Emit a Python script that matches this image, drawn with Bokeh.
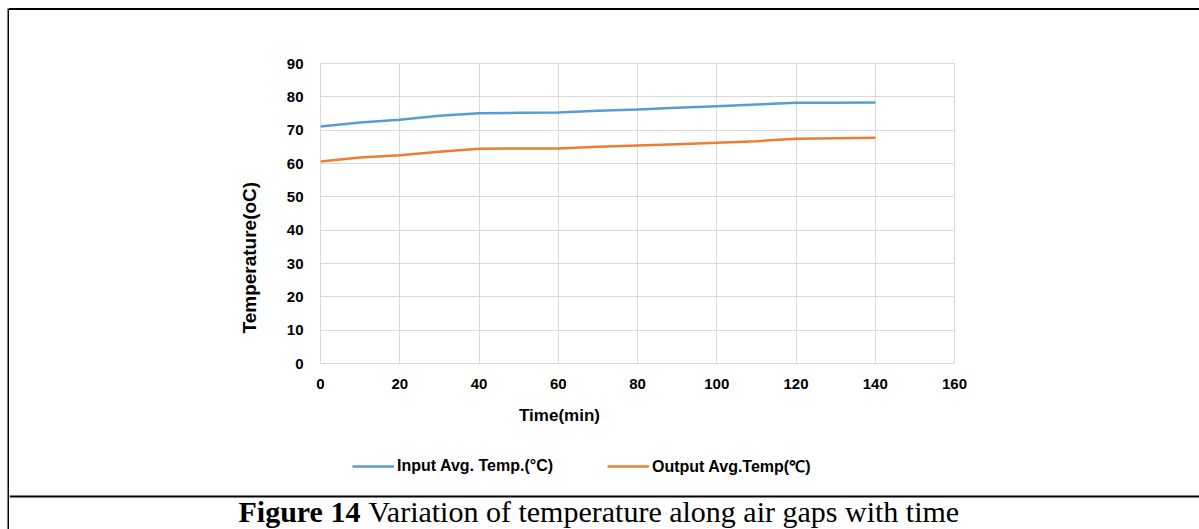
from bokeh.plotting import figure
from bokeh.layouts import column, row
from bokeh.models import (Label, Legend, LegendItem, Range1d, FixedTicker,
                          ColumnDataSource, Title, Spacer)
from bokeh.embed import file_html
from bokeh.resources import INLINE

# ---- data ----
time_min = [0, 10, 20, 30, 40, 50, 60, 70, 80, 90, 100, 110, 120, 130, 140]
input_avg = [71.1, 72.3, 73.1, 74.3, 75.1, 75.2, 75.3, 75.8, 76.2, 76.7, 77.2, 77.7, 78.2, 78.2, 78.3]
output_avg = [60.6, 61.8, 62.5, 63.5, 64.4, 64.5, 64.5, 65.0, 65.4, 65.8, 66.2, 66.7, 67.4, 67.6, 67.7]
x_ticks = [0, 20, 40, 60, 80, 100, 120, 140, 160]
y_ticks = [0, 10, 20, 30, 40, 50, 60, 70, 80, 90]
series_names = ["Input Avg. Temp.(°C)", "Output Avg.Temp(℃)"]
x_title = "Time(min)"
y_title = "Temperature(oC)"
caption_bold = "Figure 14"
caption_rest = "Variation of temperature along air gaps with time"

BLUE = "#5b9bd5"
ORANGE = "#ed7d31"
GRID = "#d9d9d9"
SANS = "Liberation Sans"
SERIF = "Liberation Serif"

TOTAL_W, TOTAL_H = 1199, 529
RULE_X = 7            # x of the left rule
RULE_T = 2            # rule thickness
TOP_Y = 8             # y of the top rule
LEFT_W = RULE_X + RULE_T
RIGHT_W = TOTAL_W - LEFT_W
MID_TOP = TOP_Y + RULE_T
MID_BOTTOM = 400      # page y where the chart figure ends


def blank(x0, w, h, fill="white"):
    f = figure(width=w, height=h, output_backend="svg", toolbar_location=None,
               x_range=Range1d(x0, x0 + w), y_range=Range1d(h, 0),
               x_axis_location=None, y_axis_location=None,
               min_border=0, min_border_left=0, min_border_right=0,
               min_border_top=0, min_border_bottom=0)
    f.xgrid.visible = False
    f.ygrid.visible = False
    f.outline_line_color = None
    f.background_fill_color = fill
    f.border_fill_color = fill
    return f


# ---- left rule (full height) ----
left = blank(0, LEFT_W, TOTAL_H)
left.quad(left=RULE_X, right=LEFT_W, top=TOP_Y, bottom=TOTAL_H,
          fill_color="black", line_color=None)

# ---- top rule ----
top = column(Spacer(width=RIGHT_W, height=TOP_Y),
             Spacer(width=RIGHT_W, height=RULE_T, styles={"background-color": "black"}))

# ---- main chart ----
MID_H = MID_BOTTOM - MID_TOP
FX0, FY0, FW, FH = 320, 63, 634, 300
ML = FX0 - LEFT_W
MT = FY0 - MID_TOP
p = figure(width=RIGHT_W, height=MID_H, output_backend="svg", toolbar_location=None,
           x_range=Range1d(0, 160), y_range=Range1d(0, 90),
           frame_width=FW, frame_height=FH,
           min_border_left=ML, min_border_top=MT,
           min_border_right=RIGHT_W - ML - FW, min_border_bottom=MID_H - MT - FH)
p.background_fill_color = "white"
p.border_fill_color = "white"
p.outline_line_color = GRID
p.outline_line_width = 1

for ax in (p.xaxis[0], p.yaxis[0]):
    ax.axis_line_color = None
    ax.major_tick_line_color = None
    ax.minor_tick_line_color = None
    ax.major_tick_in = 0
    ax.major_tick_out = 0
    ax.minor_tick_in = 0
    ax.minor_tick_out = 0
    ax.major_label_text_font = SANS
    ax.major_label_text_font_style = "bold"
    ax.major_label_text_font_size = "15px"
    ax.major_label_text_color = "black"
p.xaxis.ticker = FixedTicker(ticks=x_ticks)
p.yaxis.ticker = FixedTicker(ticks=y_ticks)
p.xaxis.major_label_standoff = 15
p.yaxis.major_label_standoff = 17

p.xgrid.grid_line_color = GRID
p.ygrid.grid_line_color = GRID
p.xgrid.ticker = FixedTicker(ticks=x_ticks)
p.ygrid.ticker = FixedTicker(ticks=y_ticks)

src = ColumnDataSource(dict(t=time_min, a=input_avg, b=output_avg))
p.line("t", "a", source=src, line_color=BLUE, line_width=2.5)
p.line("t", "b", source=src, line_color=ORANGE, line_width=2.5)

p.add_layout(Title(text=y_title, align="left", offset=30, vertical_align="bottom",
                   standoff=48, text_font=SANS, text_font_style="bold",
                   text_font_size="19px", text_color="black"), "left")

# ---- bottom area: x title, legend, separator, caption (page x coordinates) ----
BOT_H = TOTAL_H - MID_BOTTOM
bot = blank(LEFT_W, RIGHT_W, BOT_H)
bot.quad(left=LEFT_W, right=TOTAL_W, top=495 - MID_BOTTOM, bottom=497 - MID_BOTTOM,
         fill_color="black", line_color=None)

bot.add_layout(Label(x=559, y=415 - MID_BOTTOM, text=x_title, text_align="center",
                     text_baseline="middle", text_font=SANS, text_font_style="bold",
                     text_font_size="17px", text_color="black"))

# legend swatches: one-point lines (draw nothing) carrying the series styles
k1 = bot.line(x=time_min[:1], y=input_avg[:1], line_color=BLUE, line_width=2.5)
k2 = bot.line(x=time_min[:1], y=output_avg[:1], line_color=ORANGE, line_width=2.5)
legend = Legend(items=[LegendItem(label=series_names[0], renderers=[k1]),
                       LegendItem(label=series_names[1], renderers=[k2])],
                orientation="horizontal",
                location=(352 - LEFT_W, BOT_H - (477 - MID_BOTTOM)),
                glyph_width=42, glyph_height=20, label_height=20, label_standoff=3,
                spacing=54, padding=0, margin=0, border_line_color=None,
                background_fill_alpha=0,
                label_text_font=SANS, label_text_font_style="bold",
                label_text_font_size="16px", label_text_color="black")
bot.add_layout(legend, "center")

cap_size = 30
cap_x = 238
cap_mid = 511 - MID_BOTTOM
bot.add_layout(Label(x=cap_x, y=cap_mid, text=caption_bold, text_align="left",
                     text_baseline="middle", text_font=SERIF,
                     text_font_style="bold", text_font_size=f"{cap_size}px",
                     text_color="black"))
bot.add_layout(Label(x=cap_x + 4.333 * cap_size, y=cap_mid, text=caption_rest,
                     text_align="left", text_baseline="middle",
                     text_font=SERIF, text_font_style="normal",
                     text_font_size=f"{cap_size}px", text_color="black"))

# p is wrapped in its own row so its frame is not aligned with the bottom strip
layout = row(left, column(top, row(p), bot))
open("out.html", "w").write(file_html(layout, INLINE))
